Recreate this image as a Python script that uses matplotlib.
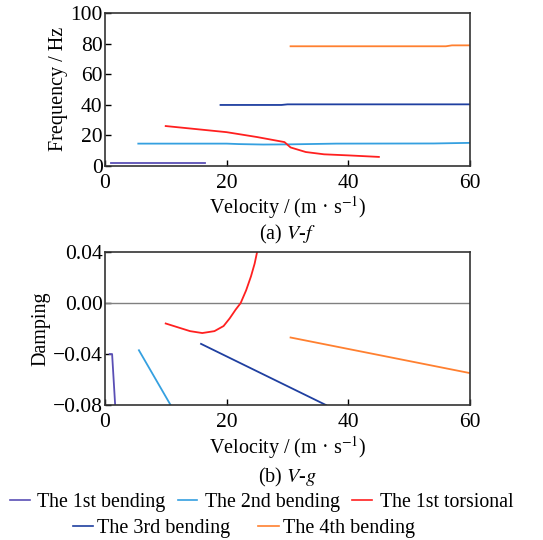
import matplotlib.pyplot as plt
from matplotlib.lines import Line2D

plt.rcParams['font.family'] = ['Liberation Serif', 'DejaVu Serif']
plt.rcParams['mathtext.fontset'] = 'stix'

# --- V-f data ---
v_b1_f = [1, 16.5]
f_b1 = [2, 2]
v_b2_f = [5.5, 20, 22, 26, 30, 38, 54, 60]
f_b2 = [14.5, 14.5, 14.2, 13.9, 14.0, 14.5, 14.6, 15.0]
v_t1_f = [10, 15, 20, 25, 29.5, 30.5, 33, 36, 40, 45]
f_t1 = [26, 24, 22, 18.8, 15.5, 12, 9, 7.5, 6.8, 5.8]
v_b3_f = [19, 29, 30, 60]
f_b3 = [39.8, 39.8, 40.2, 40.2]
v_b4_f = [30.5, 56, 57, 60]
f_b4 = [78.2, 78.2, 78.8, 78.8]

# --- V-g data ---
v_b1_g = [0.8, 1.2, 1.7]
g_b1 = [-0.04, -0.04, -0.08]
v_b2_g = [5.6, 10.8]
g_b2 = [-0.037, -0.08]
v_t1_g = [10, 12, 14, 16, 18, 19.5, 20.5, 21.5, 22.3, 23.2, 24, 24.6, 25]
g_t1 = [-0.016, -0.019, -0.022, -0.0235, -0.022, -0.018, -0.012, -0.005, 0.0, 0.01, 0.021, 0.031, 0.04]
v_b3_g = [15.8, 36.3]
g_b3 = [-0.032, -0.08]
v_b4_g = [30.5, 60]
g_b4 = [-0.027, -0.055]

labels = ['The 1st bending', 'The 2nd bending', 'The 1st torsional',
          'The 3rd bending', 'The 4th bending']
colors = ['#5a4fb5', '#35a0e0', '#ff2020', '#1f3fa0', '#ff8030']

fig = plt.figure(figsize=(5.43, 5.40), dpi=100)
ax1 = fig.add_axes([0.193, 0.693, 0.673, 0.283])
ax2 = fig.add_axes([0.193, 0.250, 0.673, 0.283])

xlab = 'Velocity / (m \u00b7 s$^{-1}$)'

lw = 1.3
ax1.plot(v_b1_f, f_b1, color=colors[0], lw=lw)
ax1.plot(v_b2_f, f_b2, color=colors[1], lw=lw)
ax1.plot(v_t1_f, f_t1, color=colors[2], lw=lw)
ax1.plot(v_b3_f, f_b3, color=colors[3], lw=lw)
ax1.plot(v_b4_f, f_b4, color=colors[4], lw=lw)
ax1.set_xlim(0, 60)
ax1.set_ylim(0, 100)
ax1.set_xticks([0, 20, 40, 60])
ax1.set_yticks([0, 20, 40, 60, 80, 100])
ax1.set_ylabel('Frequency / Hz', fontsize=14.5, labelpad=2)
ax1.set_xlabel(xlab, fontsize=14.5, labelpad=0.5)

ax2.axhline(0, color='#808080', lw=1.0)
ax2.plot(v_b1_g, g_b1, color=colors[0], lw=lw)
ax2.plot(v_b2_g, g_b2, color=colors[1], lw=lw)
ax2.plot(v_t1_g, g_t1, color=colors[2], lw=lw)
ax2.plot(v_b3_g, g_b3, color=colors[3], lw=lw)
ax2.plot(v_b4_g, g_b4, color=colors[4], lw=lw)
ax2.set_xlim(0, 60)
ax2.set_ylim(-0.08, 0.04)
ax2.set_xticks([0, 20, 40, 60])
ax2.set_yticks([-0.08, -0.04, 0.0, 0.04])
ax2.set_yticklabels(['\u22120.08', '\u22120.04', '0.00', '0.04'])
ax2.set_ylabel('Damping', fontsize=14.5, labelpad=2)
ax2.set_xlabel(xlab, fontsize=14.5, labelpad=1.5)

for ax in (ax1, ax2):
    ax.tick_params(direction='in', length=4, width=1, labelsize=15.5)
    ax.tick_params(axis='x', pad=6)
    ax.tick_params(axis='y', pad=1.5)
    for s in ax.spines.values():
        s.set_linewidth(1.2)
        s.set_color('#333333')

fig.text(0.53, 0.566, '(a) $\\it{V}$-$\\it{f}$', ha='center', va='center', fontsize=14.5)
fig.text(0.53, 0.115, '(b) $\\it{V}$-$\\it{g}$', ha='center', va='center', fontsize=14.5)

handles = [Line2D([], [], color=c, lw=1.2) for c in colors]
fig.legend(handles[:3], labels[:3], loc='center', bbox_to_anchor=(0.482, 0.069),
           ncol=3, frameon=False, fontsize=14.3, handlelength=1.0,
           handletextpad=0.4, columnspacing=0.6, borderpad=0)
fig.legend(handles[3:], labels[3:], loc='center', bbox_to_anchor=(0.449, 0.022),
           ncol=2, frameon=False, fontsize=14.5, handlelength=1.0,
           handletextpad=0.2, columnspacing=1.4, borderpad=0)

fig.savefig('out.png', dpi=100)
